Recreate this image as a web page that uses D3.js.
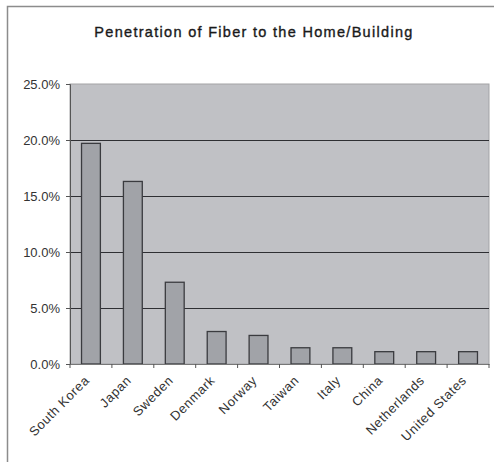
<!DOCTYPE html>
<html>
<head>
  <title>Penetration of Fiber to the Home/Building</title>
  <script src="https://cdn.jsdelivr.net/npm/d3@7"></script>
  <style>
    body { margin: 0; background: #fff; }
    text { font-family: "Liberation Sans", Arial, sans-serif; fill: #222; }
  </style>
</head>
<body>
  <div id="myChart"></div>
  <script>
    // chart data
    const countries = ["South Korea", "Japan", "Sweden", "Denmark", "Norway",
                       "Taiwan", "Italy", "China", "Netherlands", "United States"];
    const penetration = [19.7, 16.3, 7.3, 2.9, 2.55, 1.45, 1.45, 1.1, 1.1, 1.1];
    const yTicks = [0, 5, 10, 15, 20, 25];

    const width = 494;
    const height = 462;
    const margins = { top: 84, right: 5, bottom: 98, left: 70 };

    const svg = d3.select("#myChart").append("svg")
        .attr("width", width)
        .attr("height", height);

    // outer chart frame
    svg.append("rect")
        .attr("x", 7.5).attr("y", 6.5)
        .attr("width", 520).attr("height", 500)
        .attr("fill", "#fff")
        .attr("stroke", "#8c8c8c")
        .attr("stroke-width", 1.5);

    const x = d3.scaleBand()
        .domain(countries)
        .range([margins.left, width - margins.right])
        .paddingInner(0.55)
        .paddingOuter(0.275);

    const y = d3.scaleLinear()
        .domain([0, 25])
        .range([height - margins.bottom, margins.top]);

    // plot area background
    svg.append("rect")
        .attr("x", margins.left)
        .attr("y", margins.top)
        .attr("width", width - margins.right - margins.left)
        .attr("height", y(0) - margins.top)
        .attr("fill", "#c0c1c5")
        .attr("stroke", "#a3a3a6");

    // gridlines
    svg.selectAll(".grid")
        .data(yTicks.filter(d => d > 0 && d < 25))
        .enter().append("line")
        .attr("class", "grid")
        .attr("x1", margins.left)
        .attr("x2", width - margins.right)
        .attr("y1", d => Math.round(y(d)) + 0.5)
        .attr("y2", d => Math.round(y(d)) + 0.5)
        .attr("stroke", "#2e2f33")
        .attr("stroke-width", 1.2);

    // bars
    const data = countries.map((c, i) => ({ name: c, value: penetration[i] }));
    svg.selectAll(".bar")
        .data(data)
        .enter().append("rect")
        .attr("class", "bar")
        .attr("x", d => x(d.name))
        .attr("y", d => y(d.value))
        .attr("width", x.bandwidth())
        .attr("height", d => y(0) - y(d.value))
        .attr("fill", "#a1a3a8")
        .attr("stroke", "#3a3b3f")
        .attr("stroke-width", 1.3);

    // y axis
    const yAxis = svg.append("g")
        .attr("transform", `translate(${margins.left},0)`)
        .call(d3.axisLeft(y).tickValues(yTicks).tickSize(4)
            .tickFormat(d => d.toFixed(1) + "%"));
    yAxis.select(".domain").attr("stroke", "#555");
    yAxis.selectAll(".tick line").attr("stroke", "#555");
    yAxis.selectAll("text")
        .attr("font-size", 13)
        .attr("dx", "-3")
        .style("fill", "#333")
        .style("font-family", "Liberation Sans, Arial, sans-serif");

    // x axis
    const xAxis = svg.append("g")
        .attr("transform", `translate(0,${y(0)})`)
        .call(d3.axisBottom(x).tickSize(0).tickSizeOuter(0));
    xAxis.select(".domain").attr("stroke", "#777");

    // tick marks between categories
    const plotW = width - margins.right - margins.left;
    xAxis.selectAll(".sep")
        .data(d3.range(countries.length + 1))
        .enter().append("line")
        .attr("class", "sep")
        .attr("x1", i => margins.left + i * plotW / countries.length)
        .attr("x2", i => margins.left + i * plotW / countries.length)
        .attr("y1", 0).attr("y2", 4)
        .attr("stroke", "#555");

    xAxis.selectAll(".tick text")
        .attr("font-size", 13)
        .style("text-anchor", "end")
        .style("letter-spacing", "0.6px")
        .attr("y", 0)
        .attr("dy", "0.35em")
        .attr("transform", "translate(-4,14) rotate(-45)")
        .style("fill", "#333")
        .style("font-family", "Liberation Sans, Arial, sans-serif");

    // title
    svg.append("text")
        .attr("x", 254)
        .attr("y", 37)
        .attr("text-anchor", "middle")
        .attr("font-size", 14.5)
        .style("letter-spacing", "1.3px")
        .style("fill", "#1a1a1a")
        .style("stroke", "#1a1a1a")
        .style("stroke-width", 0.35)
        .text("Penetration of Fiber to the Home/Building");
  </script>
</body>
</html>
